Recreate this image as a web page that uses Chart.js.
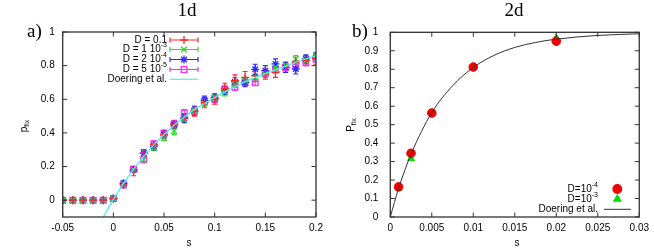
<!DOCTYPE html>
<html><head><meta charset="utf-8">
<script src="https://cdn.jsdelivr.net/npm/chart.js@4.4.1/dist/chart.umd.min.js"></script>
<style>
html,body{margin:0;padding:0;background:#fff;width:654px;height:249px;overflow:hidden}
.box{position:absolute;top:0;height:249px}
</style></head><body>
<div class="box" style="left:0;width:330px"><canvas id="c1" width="330" height="249"></canvas></div>
<div class="box" style="left:330px;width:324px"><canvas id="c2" width="324" height="249"></canvas></div>
<script>
// ---------- Panel a) 1d ----------
const s1 = [-0.05,-0.04,-0.03,-0.02,-0.01,0,0.01,0.02,0.03,0.04,0.05,0.06,0.07,0.08,0.09,0.10,0.11,0.12,0.13,0.14,0.15,0.16,0.17,0.18,0.19,0.20];
const pD01  = [0,0,0,0,0,0.01,0.09,0.17,0.28,0.33,0.39,0.45,0.49,0.53,0.58,0.60,0.665,0.71,0.73,0.74,0.75,0.76,0.79,0.82,0.83,0.84];
const eD01  = [0,0,0,0,0,0.01,0.015,0.025,0.02,0.02,0.02,0.025,0.025,0.03,0.03,0.03,0.03,0.035,0.035,0.035,0.03,0.03,0.03,0.03,0.03,0.035];
const pD1e3 = [0,0,0,0,0,0.01,0.095,0.18,0.24,0.31,0.37,0.41,0.48,0.53,0.575,0.61,0.64,0.69,0.71,0.73,0.75,0.79,0.80,0.84,0.83,0.86];
const eD1e3 = [0,0,0,0,0,0.01,0.012,0.015,0.015,0.015,0.015,0.02,0.02,0.02,0.02,0.02,0.02,0.02,0.02,0.02,0.02,0.02,0.02,0.02,0.02,0.02];
const pD2e4 = [0,0,0,0,0,0.01,0.10,0.18,0.28,0.32,0.39,0.45,0.485,0.53,0.594,0.608,0.653,0.703,0.70,0.778,0.77,0.81,0.79,0.78,0.84,0.85];
const eD2e4 = [0,0,0,0,0,0.01,0.015,0.015,0.02,0.02,0.02,0.02,0.025,0.025,0.025,0.025,0.025,0.025,0.025,0.03,0.03,0.03,0.03,0.03,0.025,0.025];
const pD5e5 = [0,0,0,0,0,0.01,0.09,0.185,0.24,0.335,0.40,0.452,0.519,0.529,0.585,0.60,0.66,0.673,0.70,0.70,0.752,0.776,0.79,0.81,0.82,0.84];
const eD5e5 = [0,0,0,0,0,0.01,0.012,0.015,0.015,0.015,0.015,0.02,0.02,0.02,0.02,0.02,0.02,0.02,0.02,0.02,0.02,0.02,0.02,0.02,0.02,0.02];
const doer1S = [-0.01,0,0.01,0.02,0.03,0.04,0.05,0.06,0.07,0.08,0.09,0.10,0.12,0.14,0.16,0.18,0.20];
const doer1P = [-0.1,0.005,0.1,0.185,0.26,0.33,0.39,0.445,0.495,0.54,0.575,0.61,0.675,0.73,0.775,0.82,0.86];
const xTicks1 = [-0.05,0,0.05,0.1,0.15,0.2];
const yTicks1 = [0,0.2,0.4,0.6,0.8,1];

// ---------- Panel b) 2d ----------
const s2 = [0.001,0.0025,0.005,0.01,0.02];
const pD1e4_2d = [0.163,0.345,0.563,0.812,0.952];
const pD1e3_2d = [0.155,0.316,0.56,0.81,0.97];
const doer2S = [0,0.001,0.0025,0.005,0.0075,0.01,0.0125,0.015,0.0175,0.02,0.025,0.03];
const doer2P = [0,0.155,0.34,0.565,0.71,0.81,0.875,0.918,0.945,0.963,0.983,0.992];
const xTicks2 = [0,0.005,0.01,0.015,0.02,0.025,0.03];
const yTicks2 = [0,0.1,0.2,0.3,0.4,0.5,0.6,0.7,0.8,0.9,1];

const SANS = "'Liberation Sans', Arial, sans-serif";
const SERIF = "'Liberation Serif', 'Times New Roman', serif";
const RED = 'rgb(255,40,40)', GREEN = 'rgb(40,220,40)', BLUE = 'rgb(40,40,255)', MAG = 'rgb(255,40,255)', CYAN = 'rgb(80,240,240)';

function fmt(v){ return String(+Number(v).toFixed(4)); }
function pts(xs, ys){ return xs.map((x,i)=>({x:x, y:ys[i]})); }

function textSup(ctx, main, sup, right, y, size){
  ctx.font = size + 'px ' + SANS;
  ctx.textBaseline = 'middle';
  ctx.textAlign = 'left';
  const supSize = Math.round(size*0.72);
  let sw = 0;
  if (sup){ ctx.font = supSize + 'px ' + SANS; sw = ctx.measureText(sup).width; }
  ctx.font = size + 'px ' + SANS;
  const mw = ctx.measureText(main).width;
  ctx.fillText(main, right - sw - mw, y);
  if (sup){ ctx.font = supSize + 'px ' + SANS; ctx.fillText(sup, right - sw, y - 4); }
}

function marker(ctx, style, color, x, y, r, filled){
  ctx.save();
  ctx.strokeStyle = color; ctx.fillStyle = filled ? color : 'rgba(0,0,0,0)';
  ctx.lineWidth = 1.3;
  Chart.helpers.drawPoint(ctx, {pointStyle: style, radius: r, rotation: 0, borderWidth: 1.3}, x, y);
  ctx.restore();
}

function makePlugin(opt){
  return {
    id: 'deco',
    beforeDatasetsDraw(chart){
      const ctx = chart.ctx, xs = chart.scales.x, ys = chart.scales.y, a = chart.chartArea;
      ctx.save();
      ctx.beginPath(); ctx.rect(a.left, a.top, a.right-a.left, a.bottom-a.top); ctx.clip();
      chart.data.datasets.forEach(ds => {
        if (!ds.errors) return;
        ctx.strokeStyle = ds.borderColor; ctx.lineWidth = 1.1;
        ds.data.forEach((p,i) => {
          const e = ds.errors[i]; if (!e) return;
          const x = xs.getPixelForValue(p.x), y1 = ys.getPixelForValue(p.y - e), y2 = ys.getPixelForValue(p.y + e);
          ctx.beginPath();
          ctx.moveTo(x, y1); ctx.lineTo(x, y2);
          ctx.moveTo(x-2.5, y1); ctx.lineTo(x+2.5, y1);
          ctx.moveTo(x-2.5, y2); ctx.lineTo(x+2.5, y2);
          ctx.stroke();
        });
      });
      ctx.restore();
    },
    afterDraw(chart){
      const ctx = chart.ctx, xs = chart.scales.x, ys = chart.scales.y, a = chart.chartArea;
      ctx.save();
      ctx.strokeStyle = '#333'; ctx.lineWidth = 1.3;
      ctx.strokeRect(a.left, a.top, a.right-a.left, a.bottom-a.top);
      ctx.lineWidth = 1;
      const tl = 4.5;
      opt.xt.forEach(v => { const x = xs.getPixelForValue(v);
        ctx.beginPath(); ctx.moveTo(x, a.bottom); ctx.lineTo(x, a.bottom - tl);
        ctx.moveTo(x, a.top); ctx.lineTo(x, a.top + tl); ctx.stroke(); });
      opt.yt.forEach(v => { const y = ys.getPixelForValue(v);
        ctx.beginPath(); ctx.moveTo(a.left, y); ctx.lineTo(a.left + tl, y);
        ctx.moveTo(a.right, y); ctx.lineTo(a.right - tl, y); ctx.stroke(); });
      ctx.fillStyle = '#000';
      ctx.textAlign = 'center'; ctx.textBaseline = 'middle';
      ctx.font = '19px ' + SERIF;
      ctx.fillText(opt.title, opt.titleX, 11);
      ctx.textAlign = 'left';
      ctx.font = '19px ' + SERIF;
      ctx.fillText(opt.letter, opt.letterX, 32);
      ctx.font = '10px ' + SANS; ctx.textAlign = 'center';
      ctx.fillText('s', opt.sX, 243);
      ctx.save();
      ctx.translate(opt.pX, opt.pY); ctx.rotate(-Math.PI/2);
      ctx.textAlign = 'left';
      ctx.font = '10px ' + SANS;
      const w1 = ctx.measureText(opt.pLetter).width;
      ctx.font = '7px ' + SANS;
      const w2 = ctx.measureText('fix').width;
      const start = -(w1 + w2)/2;
      ctx.font = '10px ' + SANS;
      ctx.fillText(opt.pLetter, start, 0);
      ctx.font = '7px ' + SANS;
      ctx.fillText('fix', start + w1, 3);
      ctx.restore();
      opt.legend(ctx);
      ctx.restore();
    }
  };
}

function scaleCfg(min, max, ticksArr, pad, fit){
  return {
    type: 'linear', min: min, max: max,
    grid: {display: false, drawTicks: false},
    border: {display: false},
    afterBuildTicks: sc => { sc.ticks = ticksArr.map(v => ({value: v})); },
    afterFit: fit,
    ticks: {font: {family: SANS, size: 10}, color: '#000', padding: pad, maxRotation: 0, autoSkip: false, callback: v => fmt(v)}
  };
}

function errDS(label, ys, errs, color, style){
  return {type: 'scatter', label: label, data: pts(s1, ys), errors: errs, borderColor: color, backgroundColor: 'rgba(0,0,0,0)',
    pointStyle: style, pointRadius: 4, pointBorderWidth: 1.3, showLine: false};
}

new Chart(document.getElementById('c1'), {
  type: 'scatter',
  data: {datasets: [
    {type: 'line', label: 'Doering et al.', data: pts(doer1S, doer1P), borderColor: CYAN, borderWidth: 1.3, pointRadius: 0, fill: false, cubicInterpolationMode: 'monotone'},
    errDS('D = 0.1', pD01, eD01, RED, 'cross'),
    errDS('D = 1 10-3', pD1e3, eD1e3, GREEN, 'crossRot'),
    errDS('D = 2 10-4', pD2e4, eD2e4, BLUE, 'star'),
    errDS('D = 5 10-5', pD5e5, eD5e5, MAG, 'rect')
  ]},
  options: {
    responsive: false, animation: false, events: [],
    layout: {padding: {top: 32, right: 14, left: 0, bottom: 0}},
    plugins: {legend: {display: false}, tooltip: {enabled: false}},
    scales: {
      x: scaleCfg(-0.05, 0.2, xTicks1, 5, sc => { sc.height = 32; }),
      y: scaleCfg(-0.1, 1, yTicks1, 8, sc => { sc.width = 62.7; })
    }
  },
  plugins: [makePlugin({
    xt: xTicks1, yt: yTicks1, title: '1d', titleX: 187, letter: 'a)', letterX: 27, sX: 189, pX: 24, pY: 126, pLetter: 'p',
    legend: ctx => {
      const rows = [
        ['D = 0.1', '', RED, 'cross'],
        ['D = 1 10', '-3', GREEN, 'crossRot'],
        ['D = 2 10', '-4', BLUE, 'star'],
        ['D = 5 10', '-5', MAG, 'rect'],
        ['Doering et al.', '', CYAN, null]
      ];
      const ys0 = [40, 49.5, 59.5, 69.5, 79.3];
      rows.forEach((r, i) => {
        const y = ys0[i];
        ctx.fillStyle = '#000';
        textSup(ctx, r[0], r[1], 167, y, 10);
        ctx.strokeStyle = r[2]; ctx.lineWidth = 1.2;
        ctx.beginPath(); ctx.moveTo(170, y); ctx.lineTo(198, y);
        if (r[3]) { ctx.moveTo(170, y-2.5); ctx.lineTo(170, y+2.5); ctx.moveTo(198, y-2.5); ctx.lineTo(198, y+2.5); }
        ctx.stroke();
        if (r[3]) marker(ctx, r[3], r[2], 184, y, 4, false);
      });
    }
  })]
});

new Chart(document.getElementById('c2'), {
  type: 'scatter',
  data: {datasets: [
    {type: 'line', label: 'Doering et al.', data: pts(doer2S, doer2P), borderColor: '#333', borderWidth: 1, pointRadius: 0, fill: false, cubicInterpolationMode: 'monotone'},
    {type: 'scatter', label: 'D=10-4', data: pts(s2, pD1e4_2d), borderColor: 'rgb(240,0,0)', backgroundColor: 'rgb(240,0,0)', pointStyle: 'circle', pointRadius: 4.3, showLine: false},
    {type: 'scatter', label: 'D=10-3', data: pts(s2, pD1e3_2d), borderColor: 'rgb(0,220,0)', backgroundColor: 'rgb(0,220,0)', pointStyle: 'triangle', pointRadius: 4, showLine: false}
  ]},
  options: {
    responsive: false, animation: false, events: [],
    layout: {padding: {top: 32.3, right: 10.7, left: 0, bottom: 0}},
    plugins: {legend: {display: false}, tooltip: {enabled: false}},
    scales: {
      x: scaleCfg(0, 0.03, xTicks2, 5, sc => { sc.height = 32; }),
      y: scaleCfg(0, 1, yTicks2, 12, sc => { sc.width = 60.3; })
    }
  },
  plugins: [makePlugin({
    xt: xTicks2, yt: yTicks2, title: '2d', titleX: 184, letter: 'b)', letterX: 22, sX: 187, pX: 21, pY: 125, pLetter: 'P',
    legend: ctx => {
      ctx.fillStyle = '#000';
      textSup(ctx, 'D=10', '-4', 268, 189, 10);
      textSup(ctx, 'D=10', '-3', 268, 199, 10);
      textSup(ctx, 'Doering et al.', '', 268, 209.3, 10);
      marker(ctx, 'circle', 'rgb(240,0,0)', 287.3, 189, 4.3, true);
      marker(ctx, 'triangle', 'rgb(0,220,0)', 287.3, 199, 4, true);
      ctx.strokeStyle = '#333'; ctx.lineWidth = 1;
      ctx.beginPath(); ctx.moveTo(274, 209.3); ctx.lineTo(301, 209.3); ctx.stroke();
    }
  })]
});
</script>
</body></html>
